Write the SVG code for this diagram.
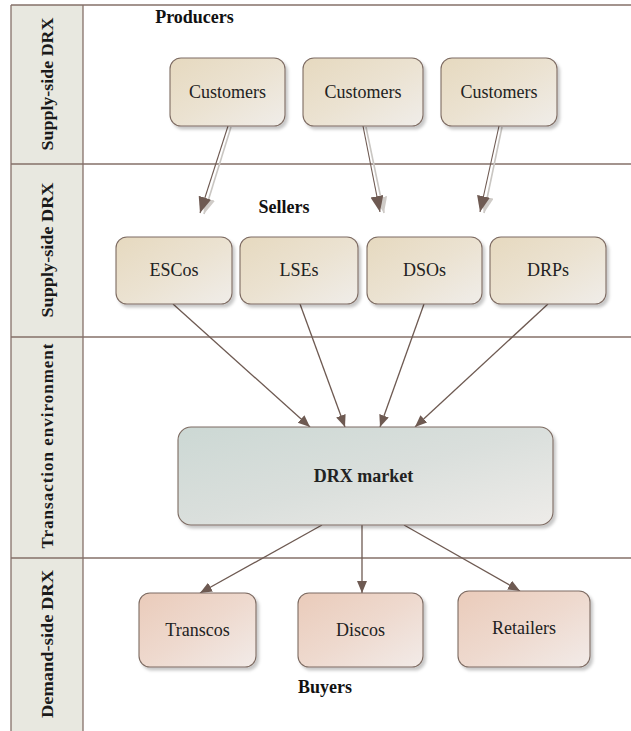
<svg xmlns="http://www.w3.org/2000/svg" width="631" height="731" viewBox="0 0 631 731" font-family="'Liberation Serif', 'Times New Roman', serif">
<style>
text{font-family:"Liberation Serif","Times New Roman",serif}
.lane{stroke:#857069;stroke-width:1.3;fill:none}
.col{fill:#e8e8e0}
.lbl{font-size:17px;font-weight:bold;fill:#1a1a1a}
.head{font-size:18px;font-weight:bold;fill:#111}
.nt{font-size:18px;fill:#222;text-anchor:middle}
.node{stroke:#7d6b62;stroke-width:1.1;filter:url(#sh)}
.sup{fill:url(#gSup)}
.mkt{fill:url(#gMkt)}
.dem{fill:url(#gDem)}
.edge{stroke:#6e5a52;stroke-width:1.3;fill:none;marker-end:url(#ah)}
.dbl{stroke:#6e5a52;stroke-width:1.1;fill:none;marker-end:url(#ah2)}
.dblsh{stroke:#c9c6c2;stroke-width:1.6;fill:none;marker-end:url(#ah2s)}
</style>
<defs>
<linearGradient id="gSup" x1="0" y1="0" x2="1" y2="1"><stop offset="0" stop-color="#e6d9bf"/><stop offset="0.5" stop-color="#ebe2d1"/><stop offset="1" stop-color="#f0ede9"/></linearGradient>
<linearGradient id="gMkt" x1="0" y1="0" x2="1" y2="1"><stop offset="0" stop-color="#ccd8d4"/><stop offset="0.5" stop-color="#dadfdc"/><stop offset="1" stop-color="#eeece9"/></linearGradient>
<linearGradient id="gDem" x1="0" y1="0" x2="1" y2="1"><stop offset="0" stop-color="#eacbba"/><stop offset="0.5" stop-color="#eed9ce"/><stop offset="1" stop-color="#f2ebe8"/></linearGradient>
<filter id="sh" x="-10%" y="-10%" width="130%" height="140%"><feDropShadow dx="2.5" dy="3" stdDeviation="1.5" flood-color="#000" flood-opacity="0.22"/></filter>
<marker id="ah" markerUnits="userSpaceOnUse" markerWidth="14" markerHeight="12" refX="12" refY="5" orient="auto"><path d="M0,0 L12,5 L0,10 z" fill="#6e5a52"/></marker>
<marker id="ah2" markerUnits="userSpaceOnUse" markerWidth="18" markerHeight="14" refX="16" refY="6.5" orient="auto"><path d="M0,0 L16,6.5 L0,13 z" fill="#6e5a52"/></marker>
<marker id="ah2s" markerUnits="userSpaceOnUse" markerWidth="18" markerHeight="14" refX="16" refY="6.5" orient="auto"><path d="M0,0 L16,6.5 L0,13 z" fill="#cfcbc7"/></marker>
</defs>

<g id="swimlanes">
<rect class="col" x="11" y="5" width="72" height="726"/>
<line class="lane" x1="11" y1="5" x2="631" y2="5"/>
<line class="lane" x1="11" y1="164" x2="631" y2="164"/>
<line class="lane" x1="11" y1="337" x2="631" y2="337"/>
<line class="lane" x1="11" y1="558" x2="631" y2="558"/>
<line class="lane" x1="11" y1="5" x2="11" y2="731"/>
<line class="lane" x1="83" y1="5" x2="83" y2="731"/>
<text class="lbl" transform="translate(53,84) rotate(-90)" text-anchor="middle" textLength="133" lengthAdjust="spacingAndGlyphs">Supply-side DRX</text>
<text class="lbl" transform="translate(53,250) rotate(-90)" text-anchor="middle" textLength="135" lengthAdjust="spacingAndGlyphs">Supply-side DRX</text>
<text class="lbl" transform="translate(53,446) rotate(-90)" text-anchor="middle" textLength="205" lengthAdjust="spacing">Transaction environment</text>
<text class="lbl" transform="translate(53,644) rotate(-90)" text-anchor="middle" textLength="148" lengthAdjust="spacingAndGlyphs">Demand-side DRX</text>
</g>

<g id="labels">
<text class="head" x="194.5" y="23" text-anchor="middle">Producers</text>
<text class="head" x="284" y="213" text-anchor="middle">Sellers</text>
<text class="head" x="325" y="693" text-anchor="middle">Buyers</text>
</g>

<g id="connectors">
<line class="dblsh" x1="231" y1="127" x2="204" y2="214"/>
<line class="dbl" x1="228" y1="126" x2="200" y2="213"/>
<line class="dblsh" x1="366" y1="127" x2="384" y2="213"/>
<line class="dbl" x1="363" y1="126" x2="380" y2="212"/>
<line class="dblsh" x1="502" y1="127" x2="484" y2="213"/>
<line class="dbl" x1="499" y1="126" x2="480" y2="212"/>
<line class="edge" x1="173" y1="304" x2="310" y2="427"/>
<line class="edge" x1="300" y1="304" x2="345" y2="427"/>
<line class="edge" x1="424" y1="304" x2="380" y2="427"/>
<line class="edge" x1="548" y1="304" x2="415" y2="427"/>
<line class="edge" x1="322" y1="525" x2="200" y2="593"/>
<line class="edge" x1="362" y1="525" x2="362" y2="593"/>
<line class="edge" x1="404" y1="525" x2="520" y2="591"/>
</g>

<g id="customers1"><rect class="node sup" x="170" y="58" width="115" height="68" rx="11"/><text class="nt" x="227.5" y="97.5">Customers</text></g>
<g id="customers2"><rect class="node sup" x="303" y="58" width="120" height="68" rx="11"/><text class="nt" x="363" y="97.5">Customers</text></g>
<g id="customers3"><rect class="node sup" x="441" y="58" width="116" height="68" rx="11"/><text class="nt" x="499" y="97.5">Customers</text></g>

<g id="escos"><rect class="node sup" x="116" y="237" width="116" height="67" rx="11"/><text class="nt" x="174" y="276">ESCos</text></g>
<g id="lses"><rect class="node sup" x="240" y="237" width="118" height="67" rx="11"/><text class="nt" x="299" y="276">LSEs</text></g>
<g id="dsos"><rect class="node sup" x="367" y="237" width="115" height="67" rx="11"/><text class="nt" x="424.5" y="276">DSOs</text></g>
<g id="drps"><rect class="node sup" x="490" y="237" width="116" height="67" rx="11"/><text class="nt" x="548" y="276">DRPs</text></g>

<g id="drx-market"><rect class="node mkt" x="178" y="427" width="375" height="98" rx="13"/><text class="nt" x="363.5" y="482" font-weight="bold">DRX market</text></g>

<g id="transcos"><rect class="node dem" x="139" y="593" width="117" height="74" rx="11"/><text class="nt" x="197.5" y="636">Transcos</text></g>
<g id="discos"><rect class="node dem" x="298" y="593" width="125" height="74" rx="11"/><text class="nt" x="360.5" y="636">Discos</text></g>
<g id="retailers"><rect class="node dem" x="458" y="591" width="132" height="76" rx="11"/><text class="nt" x="524" y="634">Retailers</text></g>
</svg>
